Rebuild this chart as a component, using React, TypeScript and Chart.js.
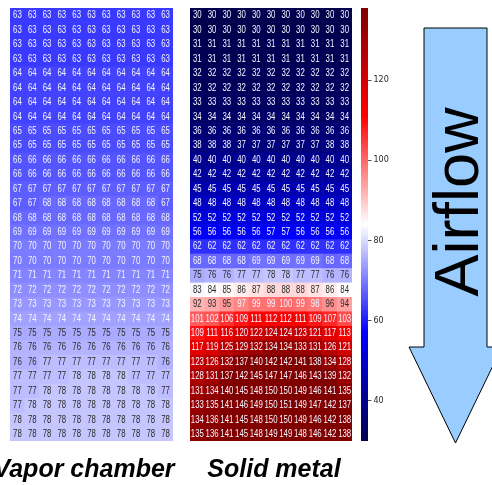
import React, { useEffect, useRef } from "react";
import { Chart, registerables } from "chart.js";

Chart.register(...registerables);

// ---------------- data ----------------
const columns = ["1", "2", "3", "4", "5", "6", "7", "8", "9", "10", "11"];
const VMIN = 30;
const VMAX = 138;
const colorbarTicks = [40, 60, 80, 100, 120];
const panelLabels = ["Vapor chamber", "Solid metal"];
const arrowLabel = "Airflow";

const vaporChamber: number[][] = [
  [63, 63, 63, 63, 63, 63, 63, 63, 63, 63, 63],
  [63, 63, 63, 63, 63, 63, 63, 63, 63, 63, 63],
  [63, 63, 63, 63, 63, 63, 63, 63, 63, 63, 63],
  [63, 63, 63, 63, 63, 63, 63, 63, 63, 63, 63],
  [64, 64, 64, 64, 64, 64, 64, 64, 64, 64, 64],
  [64, 64, 64, 64, 64, 64, 64, 64, 64, 64, 64],
  [64, 64, 64, 64, 64, 64, 64, 64, 64, 64, 64],
  [64, 64, 64, 64, 64, 64, 64, 64, 64, 64, 64],
  [65, 65, 65, 65, 65, 65, 65, 65, 65, 65, 65],
  [65, 65, 65, 65, 65, 65, 65, 65, 65, 65, 65],
  [66, 66, 66, 66, 66, 66, 66, 66, 66, 66, 66],
  [66, 66, 66, 66, 66, 66, 66, 66, 66, 66, 66],
  [67, 67, 67, 67, 67, 67, 67, 67, 67, 67, 67],
  [67, 67, 68, 68, 68, 68, 68, 68, 68, 68, 67],
  [68, 68, 68, 68, 68, 68, 68, 68, 68, 68, 68],
  [69, 69, 69, 69, 69, 69, 69, 69, 69, 69, 69],
  [70, 70, 70, 70, 70, 70, 70, 70, 70, 70, 70],
  [70, 70, 70, 70, 70, 70, 70, 70, 70, 70, 70],
  [71, 71, 71, 71, 71, 71, 71, 71, 71, 71, 71],
  [72, 72, 72, 72, 72, 72, 72, 72, 72, 72, 72],
  [73, 73, 73, 73, 73, 73, 73, 73, 73, 73, 73],
  [74, 74, 74, 74, 74, 74, 74, 74, 74, 74, 74],
  [75, 75, 75, 75, 75, 75, 75, 75, 75, 75, 75],
  [76, 76, 76, 76, 76, 76, 76, 76, 76, 76, 76],
  [76, 76, 77, 77, 77, 77, 77, 77, 77, 77, 76],
  [77, 77, 77, 77, 78, 78, 78, 78, 77, 77, 77],
  [77, 77, 78, 78, 78, 78, 78, 78, 78, 78, 77],
  [77, 78, 78, 78, 78, 78, 78, 78, 78, 78, 78],
  [78, 78, 78, 78, 78, 78, 78, 78, 78, 78, 78],
  [78, 78, 78, 78, 78, 78, 78, 78, 78, 78, 78],
];

const solidMetal: number[][] = [
  [30, 30, 30, 30, 30, 30, 30, 30, 30, 30, 30],
  [30, 30, 30, 30, 30, 30, 30, 30, 30, 30, 30],
  [31, 31, 31, 31, 31, 31, 31, 31, 31, 31, 31],
  [31, 31, 31, 31, 31, 31, 31, 31, 31, 31, 31],
  [32, 32, 32, 32, 32, 32, 32, 32, 32, 32, 32],
  [32, 32, 32, 32, 32, 32, 32, 32, 32, 32, 32],
  [33, 33, 33, 33, 33, 33, 33, 33, 33, 33, 33],
  [34, 34, 34, 34, 34, 34, 34, 34, 34, 34, 34],
  [36, 36, 36, 36, 36, 36, 36, 36, 36, 36, 36],
  [38, 38, 38, 37, 37, 37, 37, 37, 37, 38, 38],
  [40, 40, 40, 40, 40, 40, 40, 40, 40, 40, 40],
  [42, 42, 42, 42, 42, 42, 42, 42, 42, 42, 42],
  [45, 45, 45, 45, 45, 45, 45, 45, 45, 45, 45],
  [48, 48, 48, 48, 48, 48, 48, 48, 48, 48, 48],
  [52, 52, 52, 52, 52, 52, 52, 52, 52, 52, 52],
  [56, 56, 56, 56, 56, 57, 57, 56, 56, 56, 56],
  [62, 62, 62, 62, 62, 62, 62, 62, 62, 62, 62],
  [68, 68, 68, 68, 69, 69, 69, 69, 69, 68, 68],
  [75, 76, 76, 77, 77, 78, 78, 77, 77, 76, 76],
  [83, 84, 85, 86, 87, 88, 88, 88, 87, 86, 84],
  [92, 93, 95, 97, 99, 99, 100, 99, 98, 96, 94],
  [101, 102, 106, 109, 111, 112, 112, 111, 109, 107, 103],
  [109, 111, 116, 120, 122, 124, 124, 123, 121, 117, 113],
  [117, 119, 125, 129, 132, 134, 134, 133, 131, 126, 121],
  [123, 126, 132, 137, 140, 142, 142, 141, 138, 134, 128],
  [128, 131, 137, 142, 145, 147, 147, 146, 143, 139, 132],
  [131, 134, 140, 145, 148, 150, 150, 149, 146, 141, 135],
  [133, 135, 141, 146, 149, 150, 151, 149, 147, 142, 137],
  [134, 136, 141, 145, 148, 150, 150, 149, 146, 142, 138],
  [135, 136, 141, 145, 148, 149, 149, 148, 146, 142, 138],
];

// ---------------- colour map (matplotlib "seismic") ----------------
const SEISMIC: number[][] = [
  [0, 0, 0.3],
  [0, 0, 1],
  [1, 1, 1],
  [1, 0, 0],
  [0.5, 0, 0],
];

function seismic(v: number): number[] {
  let x = (v - VMIN) / (VMAX - VMIN);
  x = Math.max(0, Math.min(1, x));
  const p = x * 4;
  const i = Math.min(3, Math.floor(p));
  const t = p - i;
  const a = SEISMIC[i];
  const b = SEISMIC[i + 1];
  return [0, 1, 2].map((k) => a[k] + (b[k] - a[k]) * t);
}

function css(c: number[]): string {
  return `rgb(${Math.round(c[0] * 255)},${Math.round(c[1] * 255)},${Math.round(c[2] * 255)})`;
}

function luminance(c: number[]): number {
  const lin = c.map((u) => (u <= 0.03928 ? u / 12.92 : Math.pow((u + 0.055) / 1.055, 2.4)));
  return 0.2126 * lin[0] + 0.7152 * lin[1] + 0.0722 * lin[2];
}

function textColor(v: number): string {
  return luminance(seismic(v)) > 0.408 ? "#2a2a2a" : "#f4f4ff";
}

// ---------------- plugins ----------------
const TEXT_SQUEEZE = 0.78;

const cellTextPlugin = {
  id: "cellText",
  afterDatasetsDraw(chart: any) {
    const ctx = chart.ctx;
    ctx.save();
    ctx.font = '10px "Liberation Sans", Arial, sans-serif';
    ctx.textAlign = "center";
    ctx.textBaseline = "middle";
    chart.data.datasets.forEach((ds: any, di: number) => {
      const meta = chart.getDatasetMeta(di);
      meta.data.forEach((el: any, j: number) => {
        const p = el.getProps(["x", "y", "base"], true);
        const v = ds.values[j];
        ctx.save();
        ctx.translate(p.x, (p.y + p.base) / 2 + 0.5);
        ctx.scale(TEXT_SQUEEZE, 1);
        ctx.fillStyle = textColor(v);
        ctx.fillText(String(v), 0, 0);
        ctx.restore();
      });
    });
    ctx.restore();
  },
};

// ---------------- components ----------------
function Heatmap({ rows, left, top, width, height }: { rows: number[][]; left: number; top: number; width: number; height: number }) {
  const ref = useRef<HTMLCanvasElement | null>(null);
  useEffect(() => {
    if (!ref.current) return;
    const datasets = rows.map((row, i) => ({
      label: `row ${i + 1}`,
      data: row.map(() => 1),
      values: row,
      backgroundColor: row.map((v) => css(seismic(v))),
      borderWidth: 0,
      barPercentage: 1,
      categoryPercentage: 1,
      stack: "s",
    }));
    const chart = new Chart(ref.current, {
      type: "bar",
      data: { labels: columns, datasets: datasets as any },
      options: {
        animation: false,
        responsive: true,
        maintainAspectRatio: false,
        layout: { padding: 0 },
        plugins: { legend: { display: false }, tooltip: { enabled: false } },
        scales: {
          x: { display: false, stacked: true },
          y: { display: false, stacked: true, reverse: true, min: 0, max: rows.length },
        },
      },
      plugins: [cellTextPlugin],
    });
    return () => chart.destroy();
  }, [rows]);
  return (
    <div style={{ position: "absolute", left, top, width, height }}>
      <canvas ref={ref} />
    </div>
  );
}

function ColorBar({ left, top, width, height, axisWidth }: { left: number; top: number; width: number; height: number; axisWidth: number }) {
  const ref = useRef<HTMLCanvasElement | null>(null);
  useEffect(() => {
    if (!ref.current) return;
    const chart = new Chart(ref.current, {
      type: "bar",
      data: {
        labels: ["colorbar"],
        datasets: [
          {
            data: [[VMIN, VMAX]] as any,
            backgroundColor: (c: any) => {
              const area = c.chart.chartArea;
              if (!area) return "#888";
              const g = c.chart.ctx.createLinearGradient(0, area.bottom, 0, area.top);
              SEISMIC.forEach((col, i) => g.addColorStop(i / (SEISMIC.length - 1), css(col)));
              return g;
            },
            borderWidth: 0,
            barPercentage: 1,
            categoryPercentage: 1,
          },
        ],
      },
      options: {
        animation: false,
        responsive: true,
        maintainAspectRatio: false,
        layout: { padding: 0 },
        plugins: { legend: { display: false }, tooltip: { enabled: false } },
        scales: {
          x: { display: false },
          y: {
            position: "right",
            min: VMIN,
            max: VMAX,
            afterBuildTicks: (s: any) => {
              s.ticks = colorbarTicks.map((v) => ({ value: v }));
            },
            afterFit: (s: any) => {
              s.width = axisWidth;
              s.paddingTop = 0;
              s.paddingBottom = 0;
            },
            grid: { drawOnChartArea: false, drawTicks: true, tickLength: 3.5, color: "#262626", lineWidth: 0.8 },
            border: { display: false },
            ticks: { padding: 2, color: "#262626", font: { family: "DejaVu Sans", size: 8 } },
          },
        },
      },
    });
    return () => chart.destroy();
  }, []);
  return (
    <div style={{ position: "absolute", left, top, width, height }}>
      <canvas ref={ref} />
    </div>
  );
}

export default function App() {
  return (
    <div
      style={{
        position: "absolute",
        left: 0,
        top: 0,
        width: 492,
        height: 485,
        overflow: "hidden",
        background: "#ffffff",
      }}
    >
      <Heatmap rows={vaporChamber} left={10} top={8} width={163} height={433} />
      <Heatmap rows={solidMetal} left={190} top={8} width={162} height={433} />
      <ColorBar left={361} top={8} width={40} height={433} axisWidth={33} />
      <svg
        width={492}
        height={485}
        style={{ position: "absolute", left: 0, top: 0, pointerEvents: "none" }}
      >
        <text
          x={84}
          y={477}
          textAnchor="middle"
          fontFamily="'Liberation Sans', Arial, sans-serif"
          fontWeight="bold"
          fontStyle="italic"
          fontSize={25}
          fill="#000"
        >
          {panelLabels[0]}
        </text>
        <text
          x={274}
          y={477}
          textAnchor="middle"
          fontFamily="'Liberation Sans', Arial, sans-serif"
          fontWeight="bold"
          fontStyle="italic"
          fontSize={25}
          fill="#000"
        >
          {panelLabels[1]}
        </text>
        <polygon
          points="424,28 487,28 487,347 502,347 455.5,443 409,347 424,347"
          fill="#99ccff"
          stroke="#000"
          strokeWidth={1}
        />
        <text
          transform="translate(478,202) rotate(-90)"
          textAnchor="middle"
          fontFamily="'Liberation Sans', Arial, sans-serif"
          fontSize={63}
          fill="#000"
        >
          {arrowLabel}
        </text>
      </svg>
    </div>
  );
}
